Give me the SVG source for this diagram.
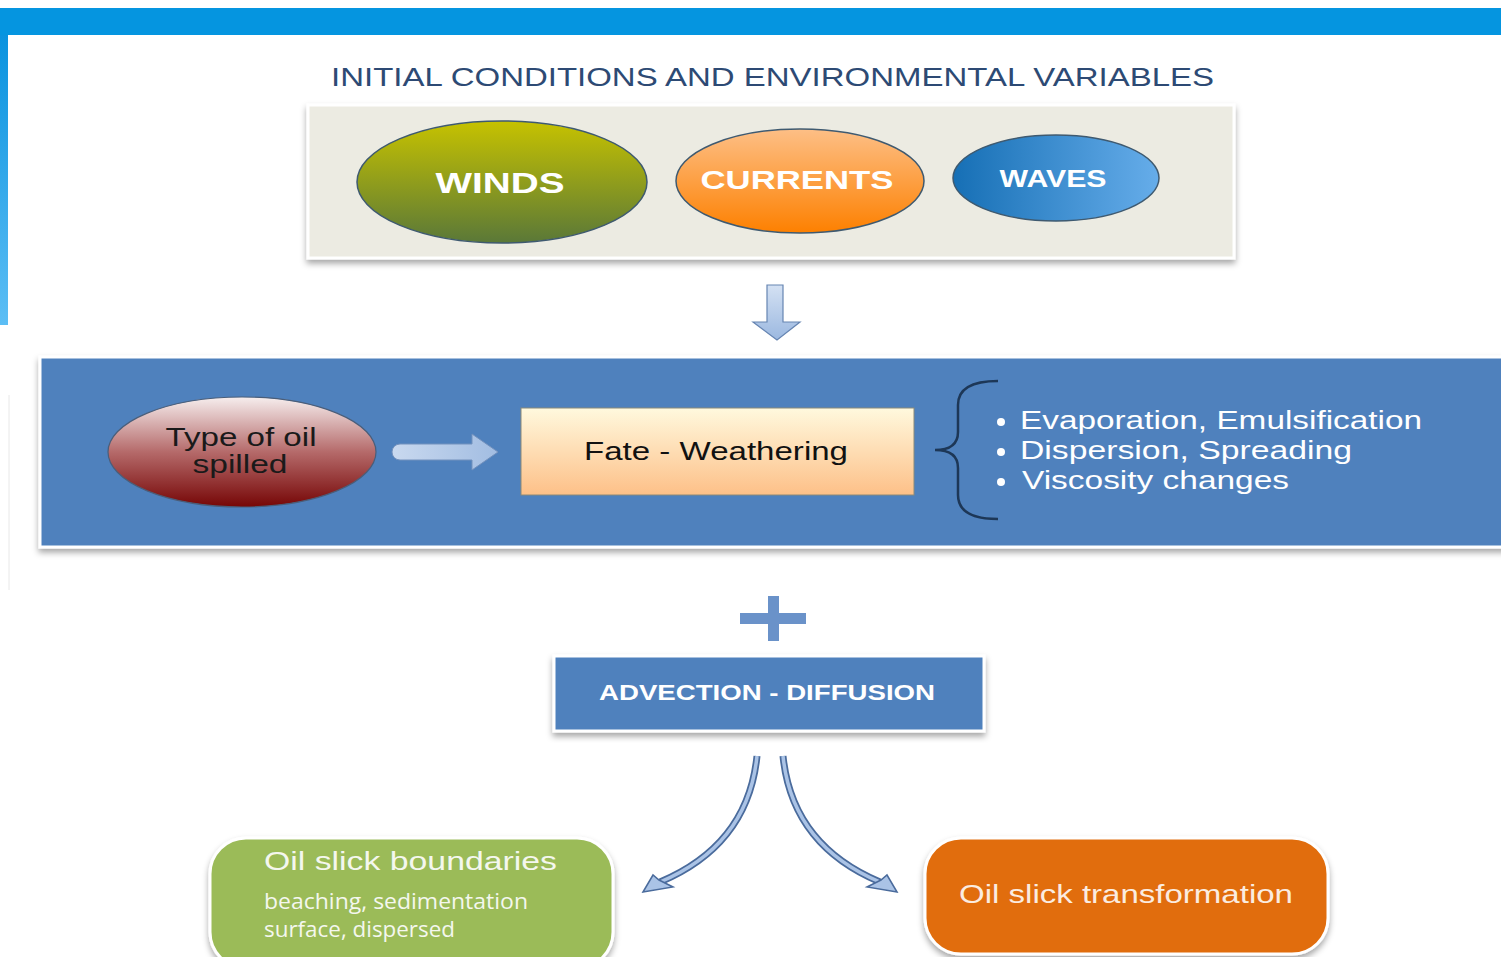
<svg xmlns="http://www.w3.org/2000/svg" width="1501" height="957" viewBox="0 0 1501 957">
<defs>
<linearGradient id="gLeft" x1="0" y1="0" x2="0" y2="1"><stop offset="0" stop-color="#0a93df"/><stop offset="1" stop-color="#5cbef5"/></linearGradient>
<linearGradient id="gWinds" x1="0" y1="0" x2="0" y2="1"><stop offset="0" stop-color="#c6c200"/><stop offset="1" stop-color="#5a7838"/></linearGradient>
<linearGradient id="gCur" x1="0" y1="0" x2="0" y2="1"><stop offset="0" stop-color="#fdbf86"/><stop offset="1" stop-color="#fd8000"/></linearGradient>
<linearGradient id="gWav" x1="0" y1="0" x2="1" y2="0"><stop offset="0" stop-color="#166fb5"/><stop offset="1" stop-color="#66adea"/></linearGradient>
<linearGradient id="gOil" x1="0" y1="0" x2="0" y2="1"><stop offset="0" stop-color="#f6eeee"/><stop offset="0.5" stop-color="#b56a6a"/><stop offset="1" stop-color="#760606"/></linearGradient>
<linearGradient id="gFate" x1="0" y1="0" x2="0" y2="1"><stop offset="0" stop-color="#fff9de"/><stop offset="1" stop-color="#fdc088"/></linearGradient>
<linearGradient id="gArr" x1="0" y1="0" x2="0" y2="1"><stop offset="0" stop-color="#d4e1f3"/><stop offset="1" stop-color="#9bb8e0"/></linearGradient>
<linearGradient id="gArrH" x1="0" y1="0" x2="1" y2="0"><stop offset="0" stop-color="#c9d9ef"/><stop offset="1" stop-color="#a2bde2"/></linearGradient>
<filter id="sh" x="-5%" y="-10%" width="110%" height="125%"><feDropShadow dx="0" dy="4" stdDeviation="3" flood-color="#000" flood-opacity="0.35"/></filter>
</defs>
<style>
.t{font-family:"Liberation Sans",Arial,sans-serif}
.w{fill:#ffffff}
.bd{stroke:#ffffff;stroke-width:3}
.ell{stroke:#3f5a70;stroke-width:1.5}
.cur{fill:none;stroke:#4a6b9c;stroke-width:7;stroke-linecap:butt}
.curin{fill:none;stroke:#aac3e6;stroke-width:3.5}
.head{fill:#aac3e6;stroke:#4a6b9c;stroke-width:1.5;stroke-linejoin:miter}
</style>
<rect x="0" y="0" width="1501" height="957" fill="#ffffff"/>
<rect x="0" y="8" width="1501" height="27" fill="#0595e0"/>
<rect x="0" y="35" width="8" height="290" fill="url(#gLeft)"/>
<line x1="9" y1="395" x2="9" y2="590" stroke="#e8e8e8" stroke-width="1"/>

<text class="t" x="331" y="86" font-size="25" fill="#2d4a74" textLength="883" lengthAdjust="spacingAndGlyphs">INITIAL CONDITIONS AND ENVIRONMENTAL VARIABLES</text>

<g id="panel-initial">
<rect x="308" y="105" width="926" height="153" fill="#ecebe2" class="bd" filter="url(#sh)"/>
</g>
<g id="winds">
<ellipse cx="502" cy="182" rx="145" ry="61" fill="url(#gWinds)" class="ell"/>
<text class="t w" x="500" y="193" font-size="30" font-weight="bold" text-anchor="middle" textLength="129" lengthAdjust="spacingAndGlyphs">WINDS</text>
</g>
<g id="currents">
<ellipse cx="800" cy="181" rx="124" ry="52" fill="url(#gCur)" class="ell"/>
<text class="t w" x="797" y="189" font-size="26" font-weight="bold" text-anchor="middle" textLength="193" lengthAdjust="spacingAndGlyphs">CURRENTS</text>
</g>
<g id="waves">
<ellipse cx="1056" cy="178" rx="103" ry="43" fill="url(#gWav)" class="ell"/>
<text class="t w" x="1053" y="187" font-size="24" font-weight="bold" text-anchor="middle" textLength="107" lengthAdjust="spacingAndGlyphs">WAVES</text>
</g>

<g id="connectors">
<polygon points="767,285 783,285 783,322 800,322 777,340 753,322 767,322" fill="url(#gArr)" stroke="#6685b2" stroke-width="1.2"/>
</g>

<g id="band-fate">
<rect x="40" y="357" width="1470" height="190" fill="#4f81bd" class="bd" filter="url(#sh)"/>
</g>
<g id="type-of-oil">
<ellipse cx="242" cy="452" rx="134" ry="55" fill="url(#gOil)" stroke="#4a5e7a" stroke-width="1.2"/>
<text class="t" x="241" y="446" font-size="26" fill="#1a1a1a" text-anchor="middle" textLength="151" lengthAdjust="spacingAndGlyphs">Type of oil</text>
<text class="t" x="240" y="473" font-size="26" fill="#1a1a1a" text-anchor="middle" textLength="95" lengthAdjust="spacingAndGlyphs">spilled</text>
</g>
<g id="arrow-right">
<path d="M400,444 L472,444 L472,434 L498,452 L472,470 L472,460 L400,460 A8,8 0 0 1 400,444 Z" fill="url(#gArrH)" stroke="#7391bd" stroke-width="1"/>
</g>
<g id="fate">
<rect x="521" y="408" width="393" height="87" fill="url(#gFate)" stroke="#8a8a7a" stroke-width="1"/>
<text class="t" x="716" y="460" font-size="26" fill="#111" text-anchor="middle" textLength="264" lengthAdjust="spacingAndGlyphs">Fate - Weathering</text>
</g>
<g id="processes">
<path d="M998,381 Q958,381 958,405 L958,432 Q958,450 935,450 Q958,450 958,468 L958,495 Q958,519 998,519" fill="none" stroke="#1d3757" stroke-width="2.5"/>
<circle cx="1001" cy="422" r="4" class="w"/>
<circle cx="1001" cy="452" r="4" class="w"/>
<circle cx="1001" cy="482" r="4" class="w"/>
<text class="t w" x="1020" y="429" font-size="25" textLength="402" lengthAdjust="spacingAndGlyphs">Evaporation, Emulsification</text>
<text class="t w" x="1020" y="459" font-size="25" textLength="332" lengthAdjust="spacingAndGlyphs">Dispersion, Spreading</text>
<text class="t w" x="1022" y="489" font-size="25" textLength="267" lengthAdjust="spacingAndGlyphs">Viscosity changes</text>
</g>

<g id="plus">
<rect x="740" y="613" width="66" height="11" fill="#6a92c9"/>
<rect x="768" y="596" width="11" height="45" fill="#6a92c9"/>
</g>
<g id="advection">
<rect x="554" y="656" width="430" height="75" fill="#4f81bd" class="bd" filter="url(#sh)"/>
<text class="t w" x="767" y="700" font-size="22" font-weight="bold" text-anchor="middle" textLength="336" lengthAdjust="spacingAndGlyphs">ADVECTION - DIFFUSION</text>
</g>

<g id="connectors-curved">
<path d="M757,756 Q748,845 660,882" class="cur"/>
<path d="M757,756 Q748,845 660,882" class="curin"/>
<polygon points="643,892 653,875 659,880 673,887" class="head"/>
<path d="M783,756 Q792,845 880,882" class="cur"/>
<path d="M783,756 Q792,845 880,882" class="curin"/>
<polygon points="897,892 887,875 881,880 867,887" class="head"/>
</g>

<g id="boundaries">
<rect x="210" y="838" width="403" height="130" rx="36" ry="36" fill="#9bbb59" class="bd" filter="url(#sh)"/>
<text class="t" x="264" y="870" font-size="25" fill="#f4f7ee" textLength="293" lengthAdjust="spacingAndGlyphs">Oil slick boundaries</text>
<text x="264" y="909" font-size="21" fill="#f4f7ee" font-family="'Open Sans','Liberation Sans',sans-serif" textLength="264" lengthAdjust="spacingAndGlyphs">beaching, sedimentation</text>
<text x="264" y="937" font-size="21" fill="#f4f7ee" font-family="'Open Sans','Liberation Sans',sans-serif" textLength="191" lengthAdjust="spacingAndGlyphs">surface, dispersed</text>
</g>
<g id="transformation">
<rect x="925" y="838" width="403" height="116" rx="36" ry="36" fill="#e16d0c" class="bd" filter="url(#sh)"/>
<text class="t" x="1126" y="903" font-size="25" fill="#fbece0" text-anchor="middle" textLength="334" lengthAdjust="spacingAndGlyphs">Oil slick transformation</text>
</g>
</svg>
